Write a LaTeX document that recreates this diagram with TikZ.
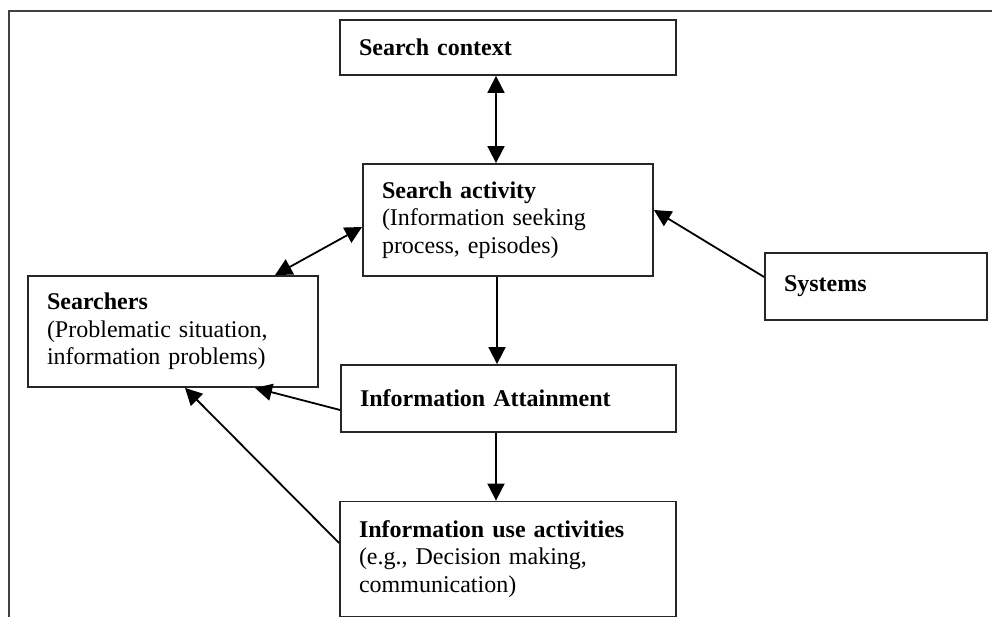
\documentclass[tikz,border=0pt]{standalone}
\usepackage{fontspec}
\setmainfont{Liberation Serif}
\usetikzlibrary{arrows.meta,calc}
\tikzset{
  box/.style={draw=black!85, line width=1.8pt, align=left, inner xsep=19pt, inner ysep=0pt,
    font=\fontsize{24}{27.5}\selectfont},
  conn/.style={line width=1.8pt, -{Triangle[length=17pt,width=17pt]}},
  bconn/.style={line width=1.8pt, {Triangle[length=17pt,width=17pt]}-{Triangle[length=17pt,width=17pt]}},
  frame/.style={draw=black!75, line width=1.3pt}
}
\begin{document}
\begin{tikzpicture}[x=1pt,y=-1pt]
\useasboundingbox (0,0) rectangle (992,617);
\draw[frame] (9,617) -- (9,11) -- (992,11);
\node[box, minimum width=336pt, minimum height=55pt, text width=298pt] (ctx) at (508,47.5) {\textbf{Search context}};
\node[box, minimum width=290pt, minimum height=112pt, text width=252pt] (act) at (508,220) {\textbf{Search activity}\\(Information seeking\\process, episodes)};
\node[box, minimum width=290pt, minimum height=111pt, text width=252pt] (srch) at (173,331.5) {\textbf{Searchers}\\(Problematic situation,\\information problems)};
\node[box, minimum width=222pt, minimum height=67pt, text width=184pt] (sys) at (876,286.5) {\textbf{Systems}};
\node[box, minimum width=335pt, minimum height=67pt, text width=297pt] (ia) at (508.5,398.5) {\textbf{Information Attainment}};
\node[box, minimum width=336pt, minimum height=115pt, text width=298pt] (iu) at (508,559) {\textbf{Information use activities}\\(e.g., Decision making,\\communication)};
\draw[bconn] (ctx.south -| 496,0) -- (act.north -| 496,0);
\draw[bconn] (act.west |- 0,227) -- (srch.north -| 275,0);
\draw[conn] (sys.west |- 0,277) -- (act.east |- 0,210);
\draw[conn] (act.south -| 497,0) -- (ia.north -| 497,0);
\draw[conn] (ia.west |- 0,410) -- (srch.south -| 255,0);
\draw[conn] (ia.south -| 496,0) -- (iu.north -| 496,0);
\draw[conn] (iu.west |- 0,543) -- (srch.south -| 185,0);
\end{tikzpicture}
\end{document}
